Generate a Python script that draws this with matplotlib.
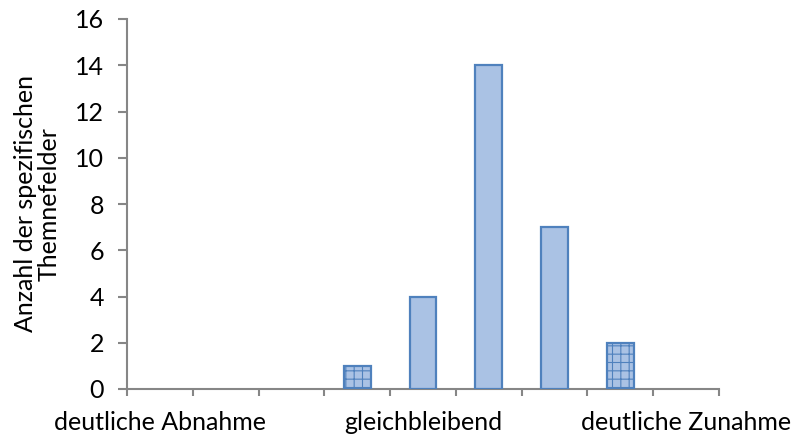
import matplotlib
matplotlib.use("Agg")
import matplotlib.pyplot as plt
import numpy as np

categories = ["deutliche Abnahme", "", "", "", "gleichbleibend", "", "", "", "deutliche Zunahme"]
values = [0, 0, 0, 1, 4, 14, 7, 2, 0]
grid_hatched = [False, False, False, True, False, False, False, True, False]
y_ticks = [0, 2, 4, 6, 8, 10, 12, 14, 16]
y_label = "Anzahl der spezifischen\nThemnefelder"

plt.rcParams['font.family'] = ['Lato', 'DejaVu Sans']
plt.rcParams['hatch.linewidth'] = 0.8

fig = plt.figure(figsize=(7.92, 4.37), dpi=100)
ax = fig.add_axes([127/792, 1-389/437, (719-127)/792, (389-19)/437])

x = np.arange(len(categories))
for xi, v, g in zip(x, values, grid_hatched):
    if v == 0:
        continue
    ax.bar(xi, v, width=0.41, color='#aac2e4', edgecolor='#4f81bd', linewidth=1.6,
           hatch='++' if g else None, zorder=3)

ax.set_xlim(-0.5, len(categories) - 0.5)
ax.set_ylim(0, 16)
ax.set_yticks(y_ticks)
ax.set_yticklabels([str(t) for t in y_ticks], fontsize=18)

ax.set_xticks(x)
ax.set_xticklabels(categories, fontsize=18)
ax.tick_params(axis='x', length=0, pad=16)
# boundary ticks
ax.set_xticks(np.arange(-0.5, len(categories), 1.0), minor=True)
ax.tick_params(axis='x', which='minor', length=5, color='#868686', width=1.5)
ax.tick_params(axis='y', length=6.5, color='#868686', width=1.5, pad=10)

for s in ['top', 'right']:
    ax.spines[s].set_visible(False)
for s in ['left', 'bottom']:
    ax.spines[s].set_color('#868686')
    ax.spines[s].set_linewidth(1.5)

ax.set_ylabel(y_label, fontsize=18, labelpad=10, linespacing=1.05)

fig.savefig("out.png", dpi=100)
